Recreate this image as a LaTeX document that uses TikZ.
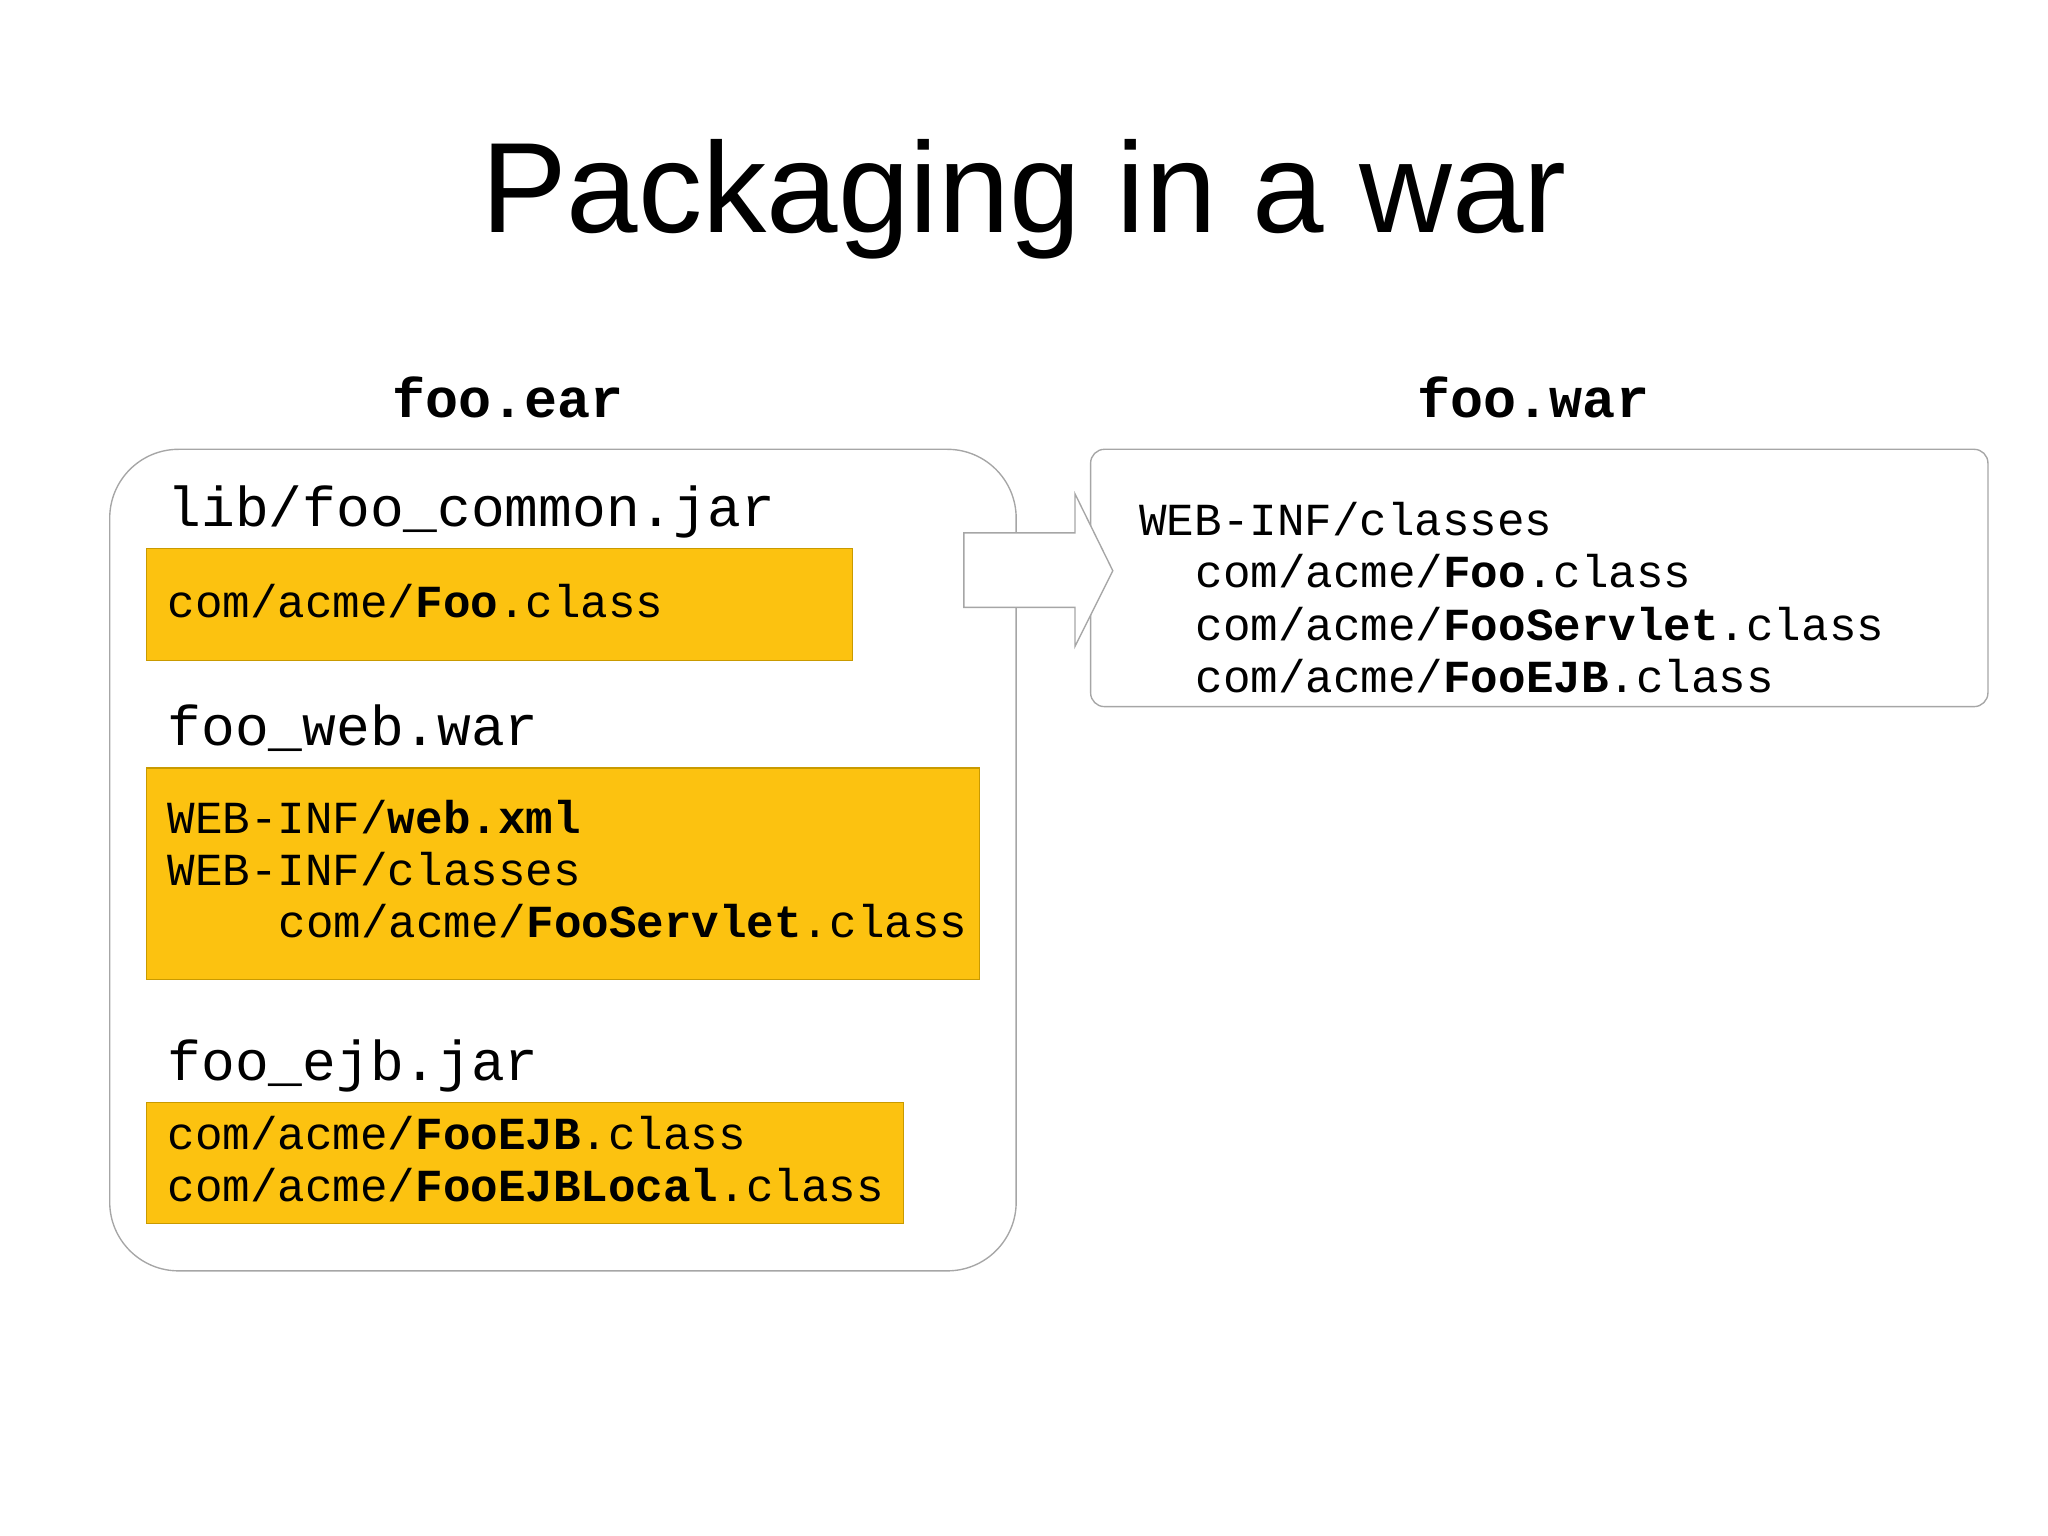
\documentclass[tikz,border=0pt]{standalone}
\usepackage{fontspec}
\setmainfont{Liberation Sans}
\setmonofont{Liberation Mono}
\definecolor{orng}{HTML}{FCC210}
\definecolor{orngb}{HTML}{C99A00}
\begin{document}
\begin{tikzpicture}[x=0.02cm,y=-0.02cm,
  code/.style={anchor=base west,inner sep=0,font=\fontsize{20}{24}\selectfont\ttfamily},
  lbl/.style={anchor=base west,inner sep=0,font=\fontsize{24.5}{28}\selectfont\ttfamily},
  hdr/.style={anchor=base,inner sep=0,font=\fontsize{24}{28}\selectfont\ttfamily\bfseries},
  obox/.style={fill=orng,draw=orngb,line width=0.5pt},
  gbox/.style={draw=gray!70,line width=0.6pt}]
\useasboundingbox (0,0) rectangle (1568,1176);
\node[anchor=base,inner sep=0,font=\fontsize{56}{60}\selectfont] (title) at (784,178) {Packaging in a war};
\node[hdr] (hear) at (389,320) {foo.ear};
\node[hdr] (hwar) at (1174,320) {foo.war};
\draw[gbox,rounded corners=30] (84,344) rectangle (778,973);
\draw[gbox,rounded corners=6] (835,344) rectangle (1522,541);
\draw[obox] (112,420) rectangle (653,506);
\draw[obox] (112,588) rectangle (750,750);
\draw[obox] (112,844) rectangle (692,937);
\draw[gbox,fill=white] (738,408) -- (823,408) -- (823,378) -- (852,437) -- (823,495) -- (823,465) -- (738,465) -- cycle;
\node[lbl] (l1) at (128,403) {lib/foo\_common.jar};
\node[code] (c1) at (128,473) {com/acme/\textbf{Foo}.class};
\node[lbl] (l2) at (128,571) {foo\_web.war};
\node[code] (c2) at (128,638) {WEB-INF/\textbf{web.xml}};
\node[code] (c3) at (128,678) {WEB-INF/classes};
\node[code] (c4) at (213,718) {com/acme/\textbf{FooServlet}.class};
\node[lbl] (l3) at (128,827) {foo\_ejb.jar};
\node[code] (c5) at (128,880) {com/acme/\textbf{FooEJB}.class};
\node[code] (c6) at (128,920) {com/acme/\textbf{FooEJBLocal}.class};
\node[code] (w1) at (872,410) {WEB-INF/classes};
\node[code] (w2) at (915,450) {com/acme/\textbf{Foo}.class};
\node[code] (w3) at (915,490) {com/acme/\textbf{FooServlet}.class};
\node[code] (w4) at (915,530) {com/acme/\textbf{FooEJB}.class};
\end{tikzpicture}
\end{document}
